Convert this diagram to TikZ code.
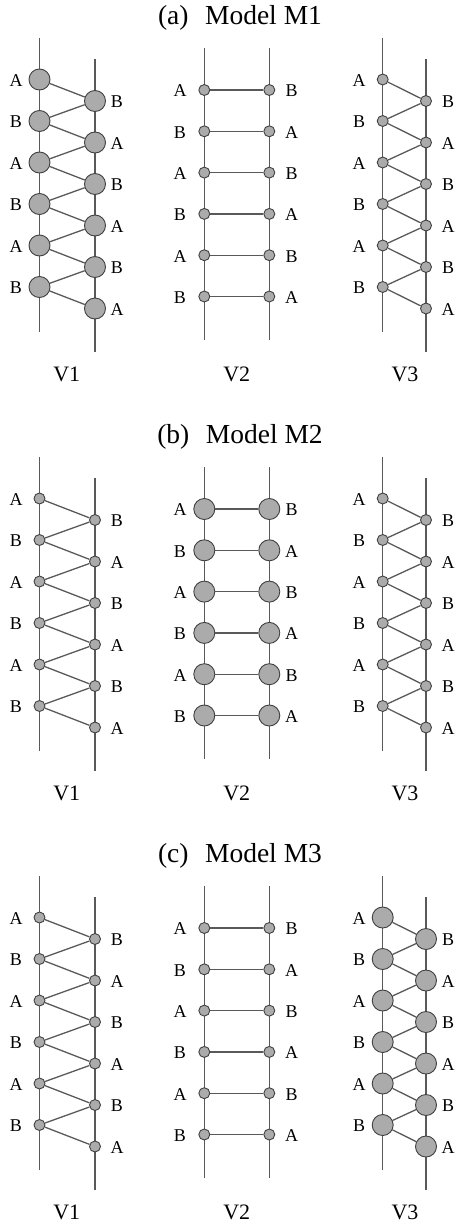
\documentclass[tikz,border=0pt]{standalone}
\usepackage{fontspec}
\setmainfont{Liberation Serif}
\usetikzlibrary{positioning}

\tikzset{
    site/.style={circle, draw=black!75, fill=black!33, inner sep=0pt, line width=0.9pt},
    small/.style={site, minimum size=11pt},
    big/.style={site, minimum size=21pt},
    lab/.style={font=\fontsize{18}{18}\selectfont, inner sep=0pt},
    vlab/.style={font=\fontsize{22}{22}\selectfont, inner sep=0pt},
    title/.style={font=\fontsize{27.5}{27.5}\selectfont, inner sep=0pt, anchor=base},
    bond/.style={draw=black!65, line width=1.3pt},
}

% zigzag chain: name, panel shift, left x, right x, site style
\newcommand{\drawzig}[5]{%
    \coordinate (#1lt) at (#3,#2+38); \coordinate (#1lb) at (#3,#2+332);
    \coordinate (#1rt) at (#4,#2+59); \coordinate (#1rb) at (#4,#2+352);
    \draw[bond] (#1lt) -- (#1lb);
    \draw[bond] (#1rt) -- (#1rb);
    \foreach \i/\p/\q in {0/A/B,1/B/A,2/A/B,3/B/A,4/A/B,5/B/A}{
        \node[#5] (#1l\i) at (#3,#2+79.5+41.5*\i) {};
        \node[#5] (#1r\i) at (#4,#2+101+41.5*\i) {};
        \node[lab] (#1p\i) at (#3-23.5,#2+80.5+41.5*\i) {\p};
        \node[lab] (#1q\i) at (#4+22,#2+102+41.5*\i) {\q};
    }
    \foreach \i in {0,...,5} \draw[bond] (#1l\i) -- (#1r\i);
    \foreach \i [count=\j] in {0,...,4} \draw[bond] (#1r\i) -- (#1l\j);
}

% ladder: name, panel shift, left x, right x, site style
\newcommand{\drawrungs}[5]{%
    \coordinate (#1lt) at (#3,#2+48); \coordinate (#1lb) at (#3,#2+340);
    \coordinate (#1rt) at (#4,#2+48); \coordinate (#1rb) at (#4,#2+340);
    \draw[bond] (#1lt) -- (#1lb);
    \draw[bond] (#1rt) -- (#1rb);
    \foreach \i/\p/\q in {0/A/B,1/B/A,2/A/B,3/B/A,4/A/B,5/B/A}{
        \node[#5] (#1l\i) at (#3,#2+90+41.3*\i) {};
        \node[#5] (#1r\i) at (#4,#2+90+41.3*\i) {};
        \node[lab] (#1p\i) at (#3-24.3,#2+91+41.3*\i) {\p};
        \node[lab] (#1q\i) at (#4+22.4,#2+91+41.3*\i) {\q};
    }
    \foreach \i in {0,...,5} \draw[bond] (#1l\i) -- (#1r\i);
}

\begin{document}
\begin{tikzpicture}[x=1pt, y=-1pt]
\useasboundingbox (0,0) rectangle (456,1226);

% (a) Model M1
\node[title] (ta) at (240,24) {(a)\hspace{0.6em}Model M1};
\drawzig{a1}{0}{39.5}{95}{big}
\drawrungs{a2}{0}{204.3}{269.3}{small}
\drawzig{a3}{0}{382.7}{426}{small}
\node[vlab] (a1v) at (66.7,374) {V1};
\node[vlab] (a2v) at (236.7,374) {V2};
\node[vlab] (a3v) at (405,374) {V3};

% (b) Model M2
\node[title] (tb) at (240,443) {(b)\hspace{0.6em}Model M2};
\drawzig{b1}{419}{39.5}{95}{small}
\drawrungs{b2}{419}{204.3}{269.3}{big}
\drawzig{b3}{419}{382.7}{426}{small}
\node[vlab] (b1v) at (66.7,793) {V1};
\node[vlab] (b2v) at (236.7,793) {V2};
\node[vlab] (b3v) at (405,793) {V3};

% (c) Model M3
\node[title] (tc) at (240,862) {(c)\hspace{0.6em}Model M3};
\drawzig{c1}{838}{39.5}{95}{small}
\drawrungs{c2}{838}{204.3}{269.3}{small}
\drawzig{c3}{838}{382.7}{426}{big}
\node[vlab] (c1v) at (66.7,1212) {V1};
\node[vlab] (c2v) at (236.7,1212) {V2};
\node[vlab] (c3v) at (405,1212) {V3};
\end{tikzpicture}
\end{document}
